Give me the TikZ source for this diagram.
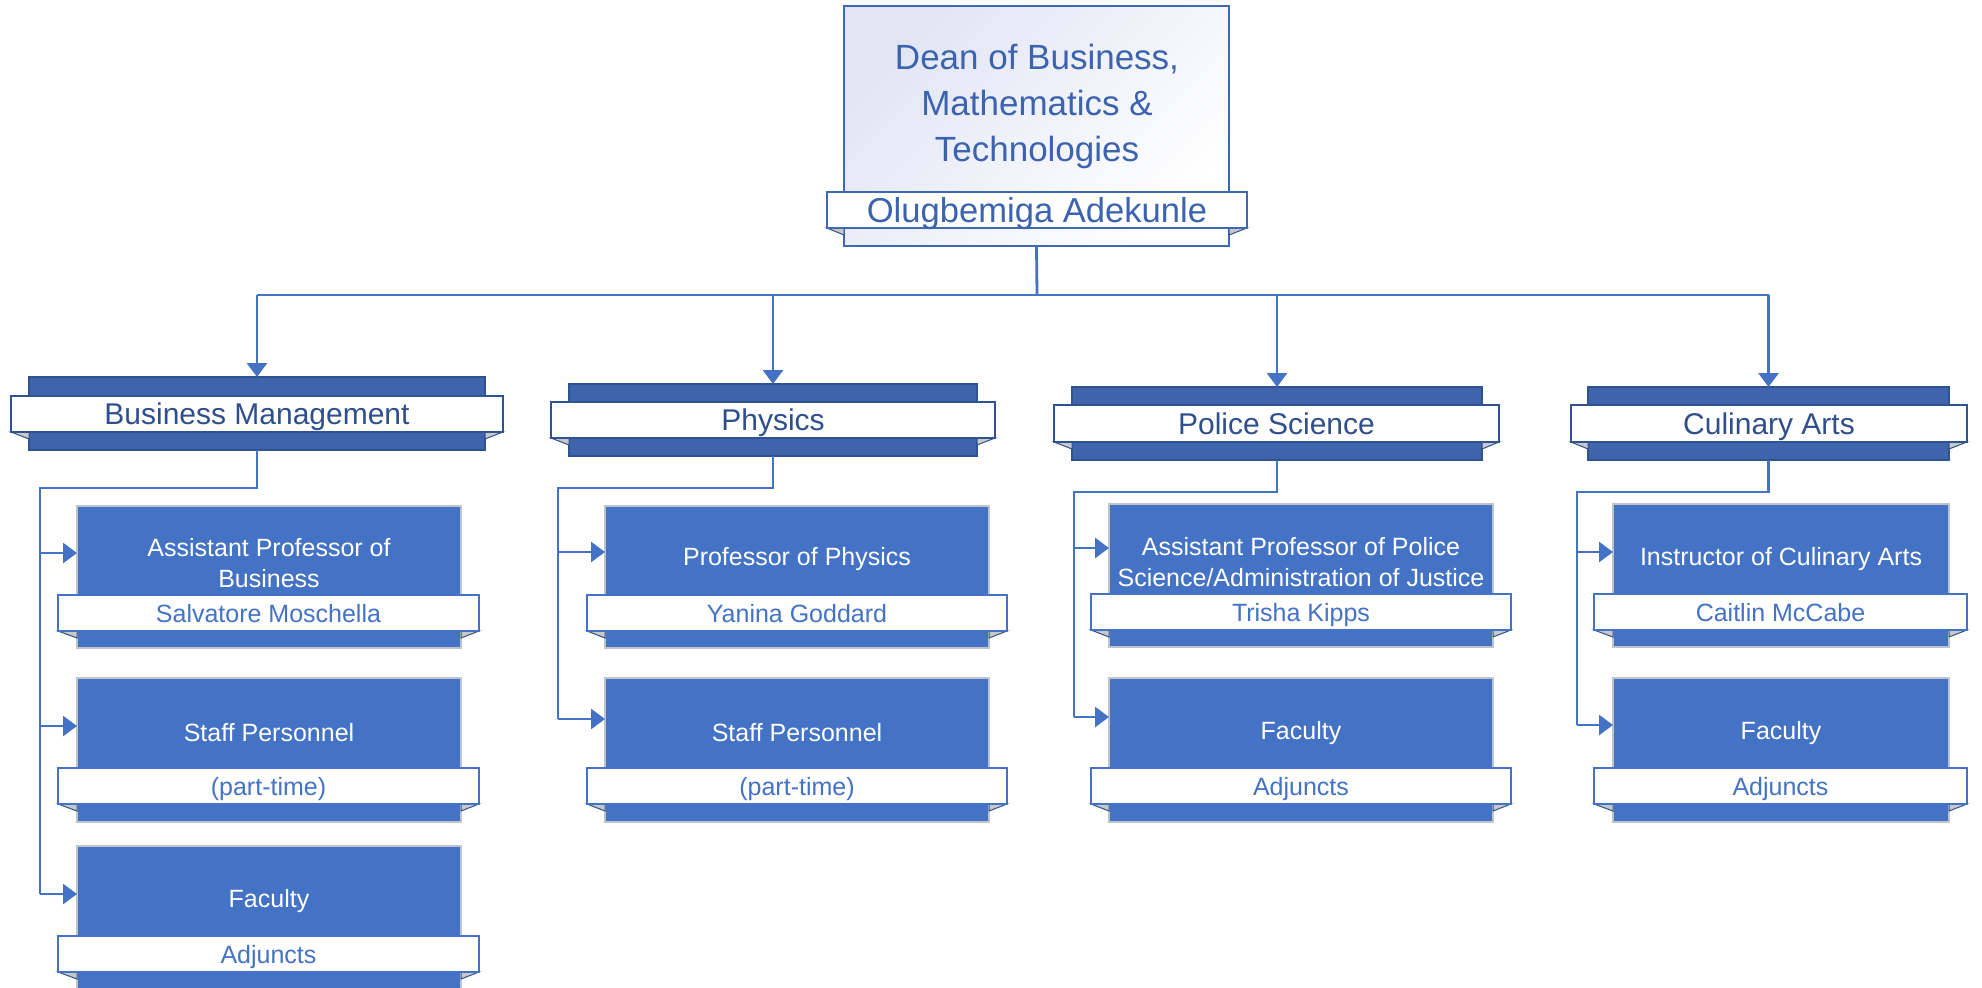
\documentclass[tikz,border=0pt]{standalone}
\usepackage{fontspec}
\setmainfont{Liberation Sans}
\usetikzlibrary{arrows.meta,fit}
\definecolor{cfill}{HTML}{4472C4}
\definecolor{cborder}{HTML}{BFC4CC}
\definecolor{bfill}{HTML}{3F64AC}
\definecolor{bdraw}{HTML}{2F5290}
\definecolor{dtext}{HTML}{2F4F8C}
\definecolor{deanb}{HTML}{4068B2}
\definecolor{deant}{HTML}{3B63AF}
\definecolor{deanbg}{HTML}{E1E5F4}
\definecolor{foldc}{HTML}{C8C8C8}
\newcommand\ribbonfolds[5]{%
  \path[fold] (#1,#5) -- (#2,#5+7) -- (#2,#5) -- cycle;
  \path[fold] (#4,#5) -- (#3,#5+7) -- (#3,#5) -- cycle;}
\begin{document}
\begin{tikzpicture}[x=0.5pt,y=-0.5pt,
  every node/.style={inner sep=0pt, outer sep=0pt},
  childbox/.style={draw=cborder, fill=cfill, line width=0.7pt},
  band/.style={draw=bdraw, fill=bfill, line width=1pt},
  deptbar/.style={draw=bdraw, fill=white, line width=1pt},
  depttext/.style={text=dtext, font=\fontsize{15}{18}\selectfont, text height=10.8pt, text depth=0pt},
  namebar/.style={draw=cfill, fill=white, line width=0.7pt},
  nametext/.style={text=cfill, font=\fontsize{12.5}{15}\selectfont, text height=9pt, text depth=0pt},
  title/.style={text=white, align=center, font=\fontsize{12.5}{15.5}\selectfont},
  fold/.style={fill=foldc, draw=bdraw, line width=0.5pt},
  conn/.style={draw=cfill, line width=1.4pt},
  arr/.style={conn, -{Triangle[length=7pt,width=10pt]}},
]
\useasboundingbox (0,0) rectangle (1982,987);
\fill[white] (0,0) rectangle (1982,987);

% ---------------- Dean ----------------
\node[draw=deanb, line width=1pt, top color=deanbg, bottom color=white, shading angle=45,
  fit={(844,6)(1229,246)}] (dean) {};
\node[text=deant, align=center, font=\fontsize{17.5}{23}\selectfont] (deantitle) at (1037,106)
  {Dean of Business,\\Mathematics \&\\Technologies};
\ribbonfolds{827}{844}{1229}{1247}{228}
\node[draw=deanb, line width=1pt, fill=white, fit={(827,192)(1247,228)}] (deanname) {};
\node[text=deant, font=\fontsize{17.3}{20}\selectfont, text height=12.4pt, text depth=0pt]
  (deannamet) at (deanname.center) {Olugbemiga Adekunle};

% ---------------- Departments ----------------
\node[band, fit={(29,377)(485,450)}] (bmband) {};
\ribbonfolds{11}{29}{485}{503}{432}
\node[deptbar, fit={(11,396)(503,432)}] (bmbar) {};
\node[depttext] (bmbart) at (bmbar.center) {Business Management};

\node[band, fit={(569,384)(977,456)}] (phband) {};
\ribbonfolds{551}{569}{977}{995}{438}
\node[deptbar, fit={(551,402)(995,438)}] (phbar) {};
\node[depttext] (phbart) at (phbar.center) {Physics};

\node[band, fit={(1072,387)(1482,460)}] (psband) {};
\ribbonfolds{1054}{1072}{1482}{1499}{442}
\node[deptbar, fit={(1054,405)(1499,442)}] (psbar) {};
\node[depttext] (psbart) at (psbar.center) {Police Science};

\node[band, fit={(1588,387)(1949,460)}] (caband) {};
\ribbonfolds{1571}{1588}{1949}{1967}{442}
\node[deptbar, fit={(1571,405)(1967,442)}] (cabar) {};
\node[depttext] (cabart) at (cabar.center) {Culinary Arts};

% ---------------- Business Management children ----------------
\node[childbox, fit={(77,506)(461,648)}] (bm1) {};
\node[title] (bm1t) at (269,563) {Assistant Professor of\\Business};
\ribbonfolds{58}{77}{461}{479}{631}
\node[namebar, fit={(58,595)(479,631)}] (bm1n) {};
\node[nametext] (bm1nt) at (bm1n.center) {Salvatore Moschella};

\node[childbox, fit={(77,678)(461,822)}] (bm2) {};
\node[title] (bm2t) at (269,733) {Staff Personnel};
\ribbonfolds{58}{77}{461}{479}{804}
\node[namebar, fit={(58,768)(479,804)}] (bm2n) {};
\node[nametext] (bm2nt) at (bm2n.center) {(part-time)};

\node[childbox, fit={(77,846)(461,1000)}] (bm3) {};
\node[title] (bm3t) at (269,901) {Faculty};
\ribbonfolds{58}{77}{461}{479}{972}
\node[namebar, fit={(58,936)(479,972)}] (bm3n) {};
\node[nametext] (bm3nt) at (bm3n.center) {Adjuncts};

% ---------------- Physics children ----------------
\node[childbox, fit={(605,506)(989,648)}] (ph1) {};
\node[title] (ph1t) at (797,559) {Professor of Physics};
\ribbonfolds{587}{605}{989}{1007}{631}
\node[namebar, fit={(587,595)(1007,631)}] (ph1n) {};
\node[nametext] (ph1nt) at (ph1n.center) {Yanina Goddard};

\node[childbox, fit={(605,678)(989,822)}] (ph2) {};
\node[title] (ph2t) at (797,733) {Staff Personnel};
\ribbonfolds{587}{605}{989}{1007}{804}
\node[namebar, fit={(587,768)(1007,804)}] (ph2n) {};
\node[nametext] (ph2nt) at (ph2n.center) {(part-time)};

% ---------------- Police Science children ----------------
\node[childbox, fit={(1109,504)(1493,647)}] (ps1) {};
\node[title] (ps1t) at (1301,562) {Assistant Professor of Police\\Science/Administration of Justice};
\ribbonfolds{1091}{1109}{1493}{1511}{630}
\node[namebar, fit={(1091,594)(1511,630)}] (ps1n) {};
\node[nametext] (ps1nt) at (ps1n.center) {Trisha Kipps};

\node[childbox, fit={(1109,678)(1493,822)}] (ps2) {};
\node[title] (ps2t) at (1301,733) {Faculty};
\ribbonfolds{1091}{1109}{1493}{1511}{804}
\node[namebar, fit={(1091,768)(1511,804)}] (ps2n) {};
\node[nametext] (ps2nt) at (ps2n.center) {Adjuncts};

% ---------------- Culinary Arts children ----------------
\node[childbox, fit={(1613,504)(1949,647)}] (ca1) {};
\node[title] (ca1t) at (1781,559) {Instructor of Culinary Arts};
\ribbonfolds{1594}{1613}{1949}{1967}{630}
\node[namebar, fit={(1594,594)(1967,630)}] (ca1n) {};
\node[nametext] (ca1nt) at (ca1n.center) {Caitlin McCabe};

\node[childbox, fit={(1613,678)(1949,822)}] (ca2) {};
\node[title] (ca2t) at (1781,733) {Faculty};
\ribbonfolds{1594}{1613}{1949}{1967}{804}
\node[namebar, fit={(1594,768)(1967,804)}] (ca2n) {};
\node[nametext] (ca2nt) at (ca2n.center) {Adjuncts};

% ---------------- Connectors ----------------
\coordinate (bus) at (1037,295);
\draw[conn] (dean.south) -- (bus);
\draw[conn] (bus -| bmband.north) -- (bus -| caband.north);
\draw[arr] (bus -| bmband.north) -- (bmband.north);
\draw[arr] (bus -| phband.north) -- (phband.north);
\draw[arr] (bus -| psband.north) -- (psband.north);
\draw[arr] (bus -| caband.north) -- (caband.north);

\coordinate (bmrail) at (40,488);
\coordinate (bm1in) at (77,553);
\coordinate (bm2in) at (77,726);
\coordinate (bm3in) at (77,894);
\draw[conn] (bmband.south) |- (bmrail) -- (bmrail |- bm3in);
\draw[arr] (bmrail |- bm1in) -- (bm1in);
\draw[arr] (bmrail |- bm2in) -- (bm2in);
\draw[arr] (bmrail |- bm3in) -- (bm3in);

\coordinate (phrail) at (558,488);
\coordinate (ph1in) at (605,552);
\coordinate (ph2in) at (605,719);
\draw[conn] (phband.south) |- (phrail) -- (phrail |- ph2in);
\draw[arr] (phrail |- ph1in) -- (ph1in);
\draw[arr] (phrail |- ph2in) -- (ph2in);

\coordinate (psrail) at (1074,492);
\coordinate (ps1in) at (1109,548);
\coordinate (ps2in) at (1109,717);
\draw[conn] (psband.south) |- (psrail) -- (psrail |- ps2in);
\draw[arr] (psrail |- ps1in) -- (ps1in);
\draw[arr] (psrail |- ps2in) -- (ps2in);

\coordinate (carail) at (1577,492);
\coordinate (ca1in) at (1613,552);
\coordinate (ca2in) at (1613,725);
\draw[conn] (caband.south) |- (carail) -- (carail |- ca2in);
\draw[arr] (carail |- ca1in) -- (ca1in);
\draw[arr] (carail |- ca2in) -- (ca2in);
\end{tikzpicture}
\end{document}
